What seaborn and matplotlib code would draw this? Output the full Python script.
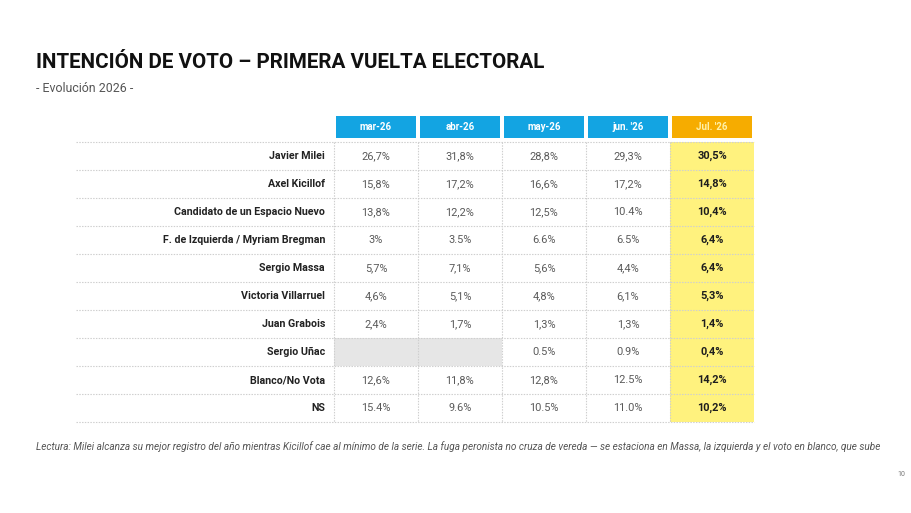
import numpy as np
import matplotlib
matplotlib.use("Agg")
import matplotlib.pyplot as plt
import seaborn as sns
from matplotlib.colors import ListedColormap

# ---------------- data ----------------
candidates = ["Javier Milei", "Axel Kicillof", "Candidato de un Espacio Nuevo",
              "F. de Izquierda / Myriam Bregman", "Sergio Massa", "Victoria Villarruel",
              "Juan Grabois", "Sergio Uñac", "Blanco/No Vota", "NS"]
months = ["mar-26", "abr-26", "may-26", "jun. '26", "Jul. '26"]
mar_26 = ["26,7%", "15,8%", "13,8%", "3%", "5,7%", "4,6%", "2,4%", None, "12,6%", "15.4%"]
abr_26 = ["31,8%", "17,2%", "12,2%", "3.5%", "7,1%", "5,1%", "1,7%", None, "11,8%", "9.6%"]
may_26 = ["28,8%", "16,6%", "12,5%", "6.6%", "5,6%", "4,8%", "1,3%", "0.5%", "12,8%", "10.5%"]
jun_26 = ["29,3%", "17,2%", "10.4%", "6.5%", "4,4%", "6,1%", "1,3%", "0.9%", "12.5%", "11.0%"]
jul_26 = ["30,5%", "14,8%", "10,4%", "6,4%", "6,4%", "5,3%", "1,4%", "0,4%", "14,2%", "10,2%"]
columns = [mar_26, abr_26, may_26, jun_26, jul_26]

title = "INTENCIÓN DE VOTO – PRIMERA VUELTA ELECTORAL"
subtitle = "- Evolución 2026 -"
note = ("Lectura: Milei alcanza su mejor registro del año mientras Kicillof cae al mínimo de la serie. "
        "La fuga peronista no cruza de vereda — se estaciona en Massa, la izquierda y el voto en blanco, que sube")
page = "10"

# ---------------- style ----------------
sns.set_theme(style="white")
plt.rcParams["font.family"] = ["Roboto", "DejaVu Sans"]

BLUE = "#13A4E2"
ORANGE = "#F6AC00"
YELLOW = "#FFF27E"
GREY = "#E6E6E6"
LINE = "#CFCFCF"

W, H = 912, 513
fig = plt.figure(figsize=(W / 100, H / 100), dpi=100)
fig.patch.set_facecolor("white")

def fx(px):
    return px / W

def fy(py):
    return 1 - py / H

n_rows = len(candidates)
n_cols = len(months)
last = n_cols - 1

# body codes: 0 white, 1 grey (no data), 2 highlighted latest month
codes = np.zeros((n_rows, n_cols))
for j, col in enumerate(columns):
    for i, v in enumerate(col):
        if v is None:
            codes[i, j] = 1
        elif j == last:
            codes[i, j] = 2

x0, x1 = 334, 754
body_top, body_bot = 142, 422
ax = fig.add_axes([fx(x0), fy(body_bot), fx(x1 - x0), (body_bot - body_top) / H])
sns.heatmap(codes, ax=ax, cmap=ListedColormap(["white", GREY, YELLOW]), vmin=-0.5, vmax=2.5,
            cbar=False, xticklabels=False, yticklabels=candidates, linewidths=0)
ax.tick_params(axis="y", left=False, pad=6.5, length=0)
for lab in ax.get_yticklabels():
    lab.set_fontweight("bold")
    lab.set_fontsize(7.7)
    lab.set_color("#222222")
    lab.set_rotation(0)
    lab.set_ha("right")

for j, col in enumerate(columns):
    for i, v in enumerate(col):
        if v is None:
            continue
        if j == last:
            ax.text(j + 0.5, i + 0.5, v, ha="center", va="center", fontsize=7.9,
                    fontweight="bold", color="#1E1E1E")
        else:
            ax.text(j + 0.5, i + 0.5, v, ha="center", va="center", fontsize=7.9,
                    color="#5A5A5A")

label_span = (x0 - 76) / ((x1 - x0) / n_cols)
ax.hlines(np.arange(n_rows + 1), -label_span, n_cols, colors=LINE, linewidth=0.8,
          linestyles=(0, (1.3, 1.2)), clip_on=False)
ax.vlines(np.arange(n_cols), 0, n_rows, colors=LINE, linewidth=0.8,
          linestyles=(0, (1.3, 1.2)), clip_on=False)

# header
head_top, head_bot = 114, 140
axh = fig.add_axes([fx(x0), fy(head_bot), fx(x1 - x0), (head_bot - head_top) / H])
head_codes = np.array([[1 if j == last else 0 for j in range(n_cols)]])
sns.heatmap(head_codes, ax=axh, cmap=ListedColormap([BLUE, ORANGE]), vmin=-0.5, vmax=1.5,
            cbar=False, xticklabels=False, yticklabels=False, linewidths=1.5, linecolor="white")
for j, m in enumerate(months):
    axh.text(j + 0.5, 0.5, m, ha="center", va="center", fontsize=7, fontweight="bold",
             color="#FFF1A8" if j == last else "white")

# texts
fig.text(fx(36), fy(63), title, fontsize=14.85, fontweight="bold", color="#111111",
         ha="left", va="center")
fig.text(fx(36), fy(88), subtitle, fontsize=8.9, color="#555555", ha="left", va="center")
fig.text(fx(36), fy(447), note, fontsize=7.2, style="italic", color="#555555",
         ha="left", va="center")
fig.text(fx(901), fy(474), page, fontsize=5, color="#777777", ha="center", va="center")

fig.savefig("out.png", dpi=100, facecolor="white")
